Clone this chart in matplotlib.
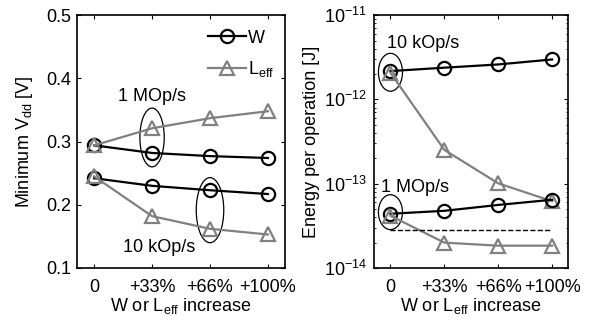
import numpy as np
import matplotlib
matplotlib.use("Agg")
import matplotlib.pyplot as plt
from matplotlib.patches import Ellipse
from matplotlib.ticker import NullFormatter

plt.rcParams["font.family"] = ["Liberation Sans", "DejaVu Sans"]
plt.rcParams["mathtext.default"] = "regular"
plt.rcParams["font.size"] = 13

x_labels = ["0", "+33%", "+66%", "+100%"]
x = np.arange(len(x_labels))

# minimum Vdd [V]
vdd_w_1m = [0.294, 0.282, 0.277, 0.274]
vdd_l_1m = [0.294, 0.321, 0.337, 0.348]
vdd_w_10k = [0.242, 0.230, 0.223, 0.217]
vdd_l_10k = [0.245, 0.182, 0.162, 0.153]

# energy per operation [J]
e_w_10k = [2.17e-12, 2.38e-12, 2.6e-12, 2.98e-12]
e_l_10k = [2.07e-12, 2.52e-13, 1.01e-13, 6.2e-14]
e_w_1m = [4.4e-14, 4.77e-14, 5.6e-14, 6.45e-14]
e_l_1m = [4.17e-14, 2.0e-14, 1.84e-14, 1.84e-14]
e_ref = 2.84e-14
e_ticks = [1e-14, 1e-13, 1e-12, 1e-11]

GRAY = "#808080"
w_style = dict(color="k", marker="o", ms=9.5, mew=1.6, lw=1.6, mfc="none")
l_style = dict(color=GRAY, marker="^", ms=10, mew=1.6, lw=1.6, mfc="none")

fig = plt.figure(figsize=(5.91, 3.25), dpi=100)
ax1 = fig.add_axes([0.1298, 0.1754, 0.353, 0.778])
ax2 = fig.add_axes([0.6333, 0.1754, 0.3283, 0.778])

for ax in (ax1, ax2):
    ax.tick_params(direction="in", top=True, right=True, length=3, width=0.8, pad=4)
    ax.tick_params(axis="x", pad=8)
    ax.tick_params(which="minor", direction="in", top=False, right=True, length=1.5, width=0.6)
    for s in ax.spines.values():
        s.set_linewidth(1.2)
    ax.set_xlim(-0.3, 3.3)
    ax.set_xticks(x)
    ax.set_xticklabels(x_labels)
    ax.set_xlabel("W or L$_{eff}$ increase", labelpad=0)

# ── left: minimum Vdd
ax1.plot(x, vdd_w_1m, label="W", **w_style)
ax1.plot(x, vdd_l_1m, label="L$_{eff}$", **l_style)
ax1.plot(x, vdd_w_10k, **w_style)
ax1.plot(x, vdd_l_10k, **l_style)
ax1.set_ylim(0.1, 0.5)
ax1.set_yticks([0.1, 0.2, 0.3, 0.4, 0.5])
ax1.set_ylabel("Minimum V$_{dd}$ [V]", labelpad=8)
ax1.add_patch(Ellipse((1, 0.3065), 0.42, 0.093, fill=False, lw=0.9, color="k"))
ax1.add_patch(Ellipse((2, 0.1915), 0.475, 0.103, fill=False, lw=0.9, color="k"))
ax1.text(1, 0.371, "1 MOp/s", ha="center", va="center")
ax1.text(1.13, 0.132, "10 kOp/s", ha="center", va="center")
ax1.legend(loc="upper right", frameon=False, handlelength=2.1, handletextpad=0.15,
           borderaxespad=0.2, labelspacing=0.7, bbox_to_anchor=(1.0, 0.985))

# ── right: energy per operation
ax2.semilogy(x, e_w_10k, **w_style)
ax2.semilogy(x, e_l_10k, **l_style)
ax2.semilogy(x, e_w_1m, **w_style)
ax2.semilogy(x, e_l_1m, **l_style)
ax2.plot([0, 3], [e_ref, e_ref], "k--", lw=1)
ax2.set_ylim(1e-14, 1e-11)
ax2.set_yticks(e_ticks)
ax2.set_yticks([m * d for d in e_ticks[:-1] for m in range(2, 10)], minor=True)
ax2.yaxis.set_minor_formatter(NullFormatter())
ax2.tick_params(axis="y", pad=5)
ax2.set_ylabel("Energy per operation [J]", labelpad=3)


def axfrac(xv, yv):
    fx = (xv + 0.3) / 3.6
    fy = (np.log10(yv) + 14) / 3
    return fx, fy


ax2.add_patch(Ellipse(axfrac(0, 2.1e-12), 0.124, 0.150, fill=False, lw=0.9,
                      color="k", transform=ax2.transAxes))
ax2.add_patch(Ellipse(axfrac(0, 4.6e-14), 0.124, 0.138, fill=False, lw=0.9,
                      color="k", transform=ax2.transAxes))
ax2.text(-0.07, 4.6e-12, "10 kOp/s", ha="left", va="center")
ax2.text(-0.17, 8.9e-14, "1 MOp/s", ha="left", va="center")

fig.savefig("out.png", dpi=100)
